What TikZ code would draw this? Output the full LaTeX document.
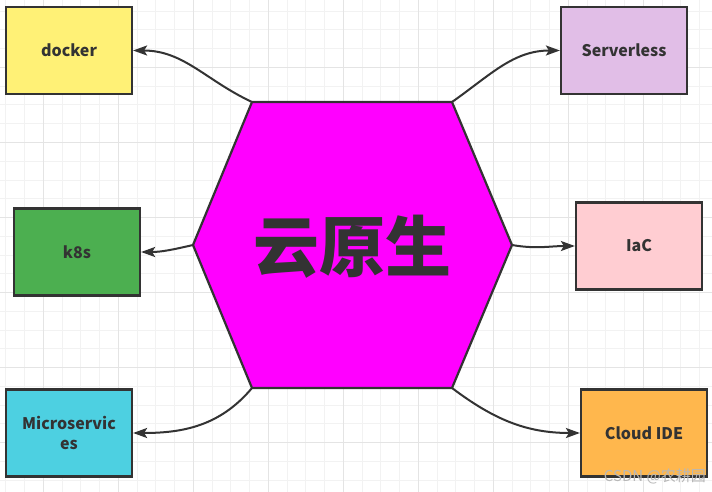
\documentclass[tikz,border=0pt]{standalone}
\usepackage{fontspec}
\setmainfont{Noto Sans}
\newfontfamily\cjk{Noto Sans CJK SC}
\usetikzlibrary{arrows.meta}

\definecolor{edge}{HTML}{333333}
\definecolor{dockerfill}{HTML}{FFF176}
\definecolor{serverfill}{HTML}{E1BEE7}
\definecolor{kubefill}{HTML}{4CAF50}
\definecolor{iacfill}{HTML}{FFCDD2}
\definecolor{microfill}{HTML}{4DD0E1}
\definecolor{idefill}{HTML}{FFB74D}
\definecolor{hexfill}{HTML}{FF00FF}

\begin{document}
\begin{tikzpicture}[x=1pt,y=-1pt,
    minorline/.style={draw={rgb,255:red,242;green,242;blue,242},line width=1pt},
    majorline/.style={draw={rgb,255:red,228;green,228;blue,228},line width=1pt},
    box/.style={draw=edge,line width=2.2pt,minimum width=126pt,minimum height=87pt,
        inner sep=0pt,text=edge,align=center,font=\cjk\bfseries\fontsize{16}{20}\selectfont},
    link/.style={draw=edge,line width=2pt,-{Stealth[length=14pt,width=10pt,inset=3pt]}}]
        \useasboundingbox (0,0) rectangle (712,492);
        \fill[white] (0,0) rectangle (712,492);
        % grid
        \foreach \k in {0,...,37} \draw[minorline] ({5.83+18.75*\k},0) -- ({5.83+18.75*\k},492);
        \foreach \k in {0,...,25} \draw[minorline] (0,{11.25+18.75*\k}) -- (712,{11.25+18.75*\k});
        \foreach \k in {0,...,8} \draw[majorline] ({43.33+75*\k},0) -- ({43.33+75*\k},492);
        \foreach \k in {0,...,5} \draw[majorline] (0,{67.5+75*\k}) -- (712,{67.5+75*\k});
        
        % boxes
        \node[box,fill=dockerfill] (docker) at (69,50.5) {docker};
        \node[box,fill=serverfill] (serverless) at (624,50.5) {Serverless};
        \node[box,fill=kubefill] (kube) at (77,252) {k8s};
        \node[box,fill=iacfill] (iac) at (639,246) {IaC};
        \node[box,fill=microfill] (micro) at (69,433) {Microservic\\es};
        \node[box,fill=idefill] (ide) at (644,433) {Cloud IDE};
        
        % hexagon
        \coordinate (hTL) at (252,102);
        \coordinate (hTR) at (452,102);
        \coordinate (hR) at (512,245);
        \coordinate (hBR) at (452,388);
        \coordinate (hBL) at (252,388);
        \coordinate (hL) at (193,245);
        \draw[link] (hTL) to[out=155,in=0] (docker.east);
        \draw[link] (hTR) to[out=35,in=180] (serverless.west);
        \draw[link] (hL) to[out=193,in=0] (kube.east);
        \draw[link] (hR) to[out=-10,in=180] (iac.west);
        \draw[link] (hBL) to[out=230,in=0] (micro.east);
        \draw[link] (hBR) to[out=-37,in=180] (ide.west);
        \filldraw[fill=hexfill,draw=edge,line width=2.2pt] (hTL) -- (hTR) -- (hR) -- (hBR) -- (hBL) -- (hL) -- cycle;
        \node[text=edge] (cloud) at (352,247) {\cjk\bfseries\fontsize{66}{66}\selectfont 云原生};
        
        %\draw[red] (0,0) rectangle (712,492);
        \node[anchor=east,text=black!28,inner sep=0pt] (mark) at (706,476) {\cjk\fontsize{15}{15}\selectfont CSDN @农耕园};
        
        \end{tikzpicture}
\end{document}
